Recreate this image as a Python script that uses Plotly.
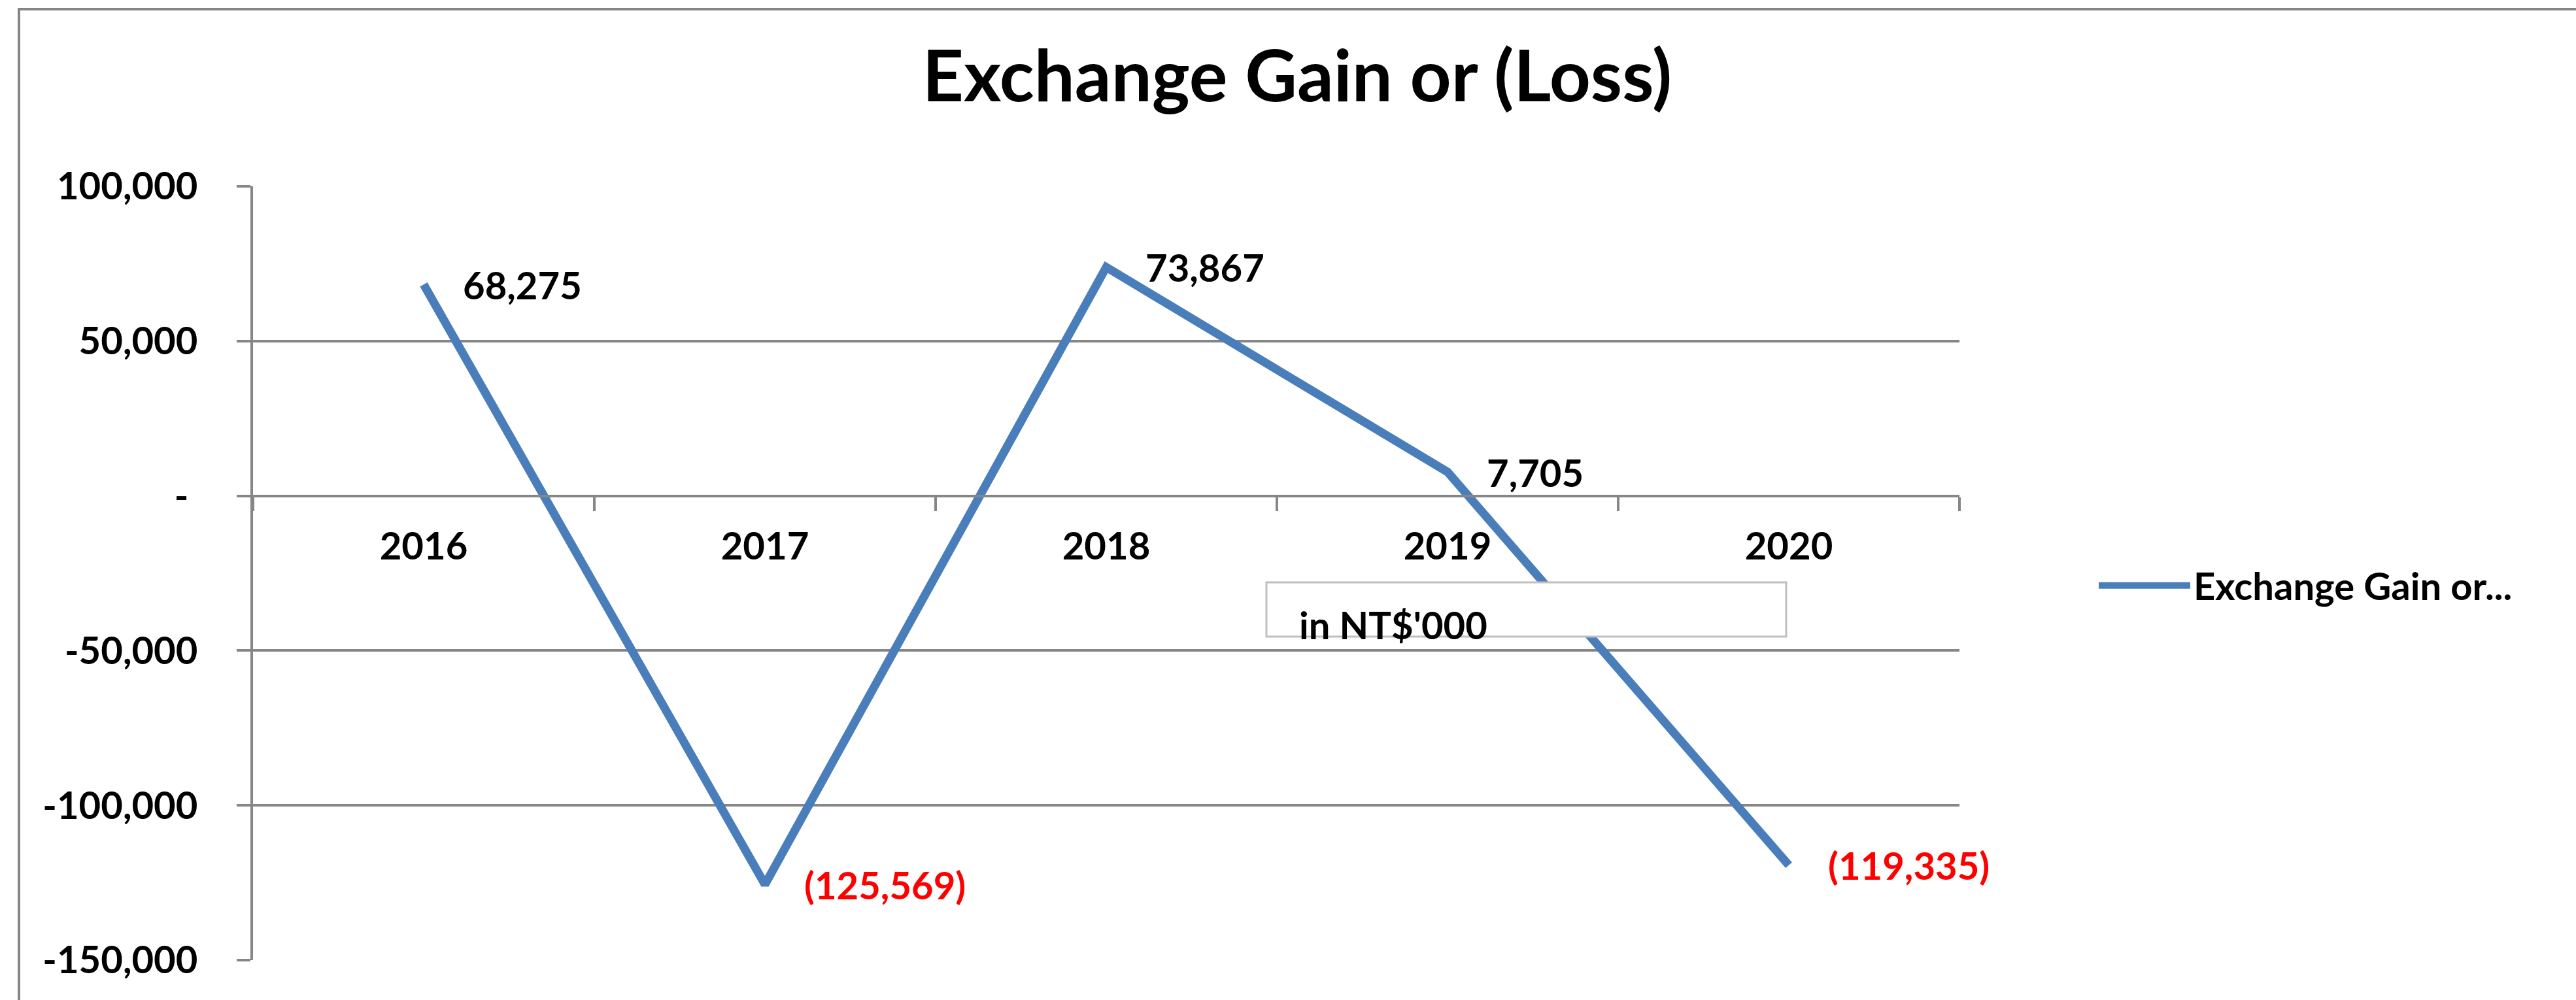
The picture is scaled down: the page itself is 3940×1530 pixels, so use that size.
import plotly.graph_objects as go

# ---- data ----
years = ["2016", "2017", "2018", "2019", "2020"]
values = [68275, -125569, 73867, 7705, -119335]
series_name = "Exchange Gain or..."
title_text = "Exchange Gain or (Loss)"
unit_text = "in NT$'000"
y_tickvals = [-150000, -100000, -50000, 0, 50000, 100000]
y_ticktext = ["-150,000", "-100,000", "-50,000", "-\u00a0", "50,000", "100,000"]
y_range = [-150000, 100000]

# ---- style ----
W, H = 3940, 1530
L, R, T, B = 387, 2997, 285, 1469  # plot area in px
FONT = "Lato"
GRID = "#868686"
LINE_COLOR = "#4A7EBB"
FS = 58


def px_x(px):
    return (px - L) / (R - L)


def px_y(py):
    return (B - py) / (B - T)


def fmt(v):
    return f"({abs(v):,})" if v < 0 else f"{v:,}"


def bold(size, color="black"):
    return dict(family=FONT, size=size, color=color, weight="bold")


fig = go.Figure()
fig.add_trace(go.Scatter(
    x=years, y=values, mode="lines", name=series_name,
    line=dict(color=LINE_COLOR, width=13),
    showlegend=True,
))

# data labels (category index used as x position on the category axis)
for i, v in enumerate(values):
    fig.add_annotation(
        x=i, y=v, xref="x", yref="y", text=fmt(v),
        showarrow=False, xanchor="left", yanchor="middle", xshift=58,
        font=bold(FS, "#FF0000" if v < 0 else "#000000"),
    )

zero_pos = (0 - y_range[0]) / (y_range[1] - y_range[0])

fig.update_layout(
    width=W, height=H,
    margin=dict(l=L, r=W - R, t=T, b=H - B, pad=0),
    paper_bgcolor="white", plot_bgcolor="white",
    font=bold(FS),
    title=dict(text=title_text, x=1984 / W, xref="container", xanchor="center",
               y=1 - 116 / H, yref="container", yanchor="middle",
               font=bold(110)),
    xaxis=dict(
        type="category", range=[-0.5, len(years) - 0.5],
        anchor="free", position=zero_pos,
        showline=True, linecolor=GRID, linewidth=4,
        ticks="outside", ticklen=21, tickwidth=4, tickcolor=GRID,
        tickson="boundaries", showgrid=False,
        tickfont=bold(FS),
        ticklabelstandoff=26,
    ),
    yaxis=dict(
        range=y_range, tickvals=y_tickvals, ticktext=y_ticktext,
        showline=True, linecolor=GRID, linewidth=4,
        ticks="outside", ticklen=21, tickwidth=4, tickcolor=GRID,
        showgrid=True, gridcolor=GRID, gridwidth=4,
        zeroline=False,
        tickfont=bold(FS),
        ticklabelstandoff=48,
    ),
    legend=dict(
        x=px_x(3205), y=px_y(896), xanchor="left", yanchor="middle",
        font=bold(FS),
        itemwidth=140, bgcolor="rgba(0,0,0,0)",
    ),
)

# outer chart border (extends beyond the visible page on right/bottom)
fig.add_shape(type="rect", xref="paper", yref="paper",
              x0=px_x(29), x1=px_x(W + 50), y0=px_y(H + 50), y1=px_y(14),
              line=dict(color=GRID, width=4), fillcolor="rgba(0,0,0,0)", layer="above")

# unit text box
fig.add_shape(type="rect", xref="paper", yref="paper",
              x0=px_x(1937), x1=px_x(2732), y0=px_y(974), y1=px_y(891),
              line=dict(color="#BFBFBF", width=3), fillcolor="white", layer="above")
fig.add_annotation(xref="paper", yref="paper", x=px_x(1985), y=px_y(992),
                   xanchor="left", yanchor="bottom", showarrow=False,
                   text=unit_text, font=bold(FS))

fig.write_html("out.html", config={"displayModeBar": False},
               post_script="document.body.style.margin='0';document.body.style.overflow='hidden';")
